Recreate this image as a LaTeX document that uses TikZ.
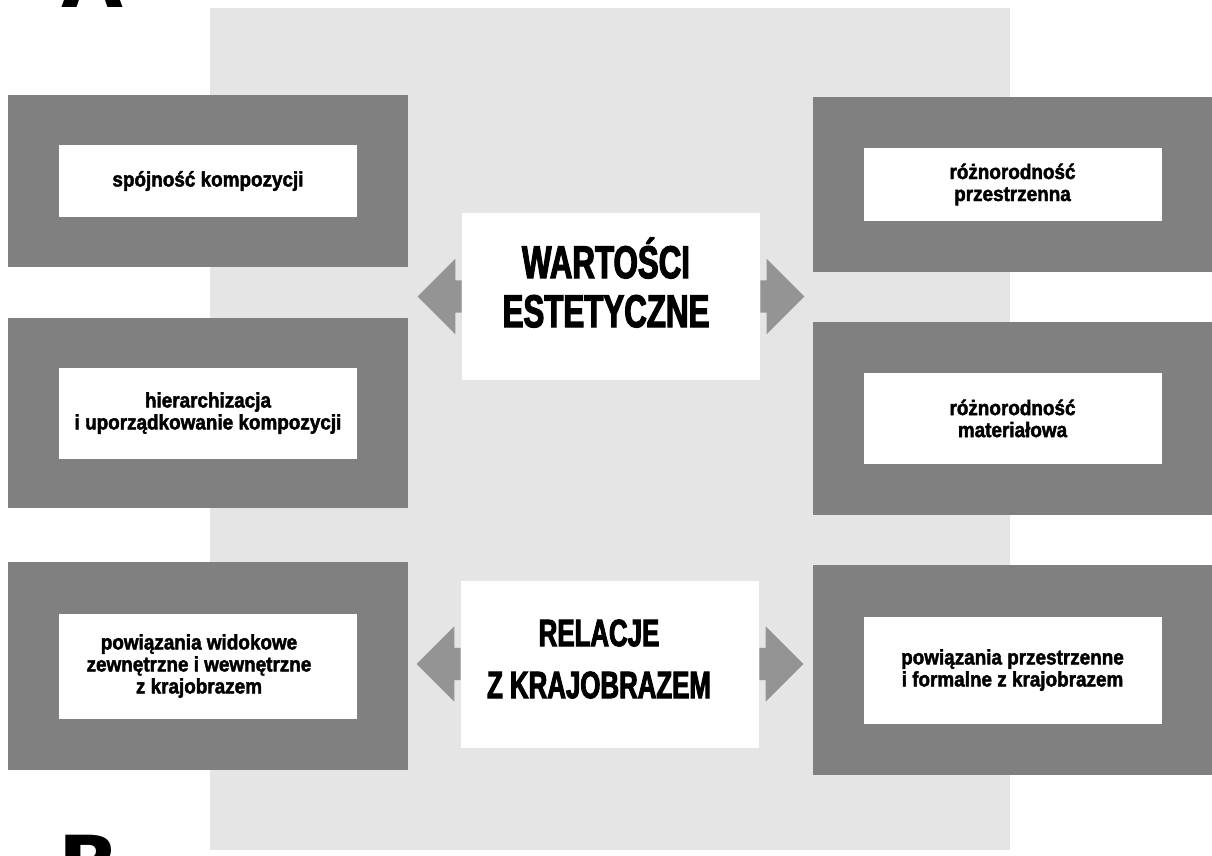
\documentclass[tikz,border=0pt]{standalone}
\usepackage{fontspec}
\newfontfamily\titlefont{Liberation Sans}[FakeStretch=0.68,FakeBold=2.5]
\newfontfamily\boxfont{Liberation Sans}[FakeStretch=0.9,FakeBold=2]
\newfontfamily\letterfont{DejaVu Sans}
\usepackage{tikz}
\usetikzlibrary{positioning,shapes.arrows}

\begin{document}
\begin{tikzpicture}[x=1pt,y=-1pt,
  outer node/.style={rectangle,fill=black!50,minimum width=400pt,inner sep=0pt},
  inner node/.style={rectangle,fill=white,minimum width=298pt,inner sep=0pt,align=center,
    font=\boxfont\bfseries\fontsize{21}{22}\selectfont},
  main node/.style={rectangle,fill=white,minimum width=298pt,minimum height=167pt,inner sep=0pt},
  title node/.style={inner sep=0pt,align=center,font=\titlefont\bfseries\fontsize{46}{49}\selectfont},
  arrow node/.style={single arrow,fill=black!42,minimum height=44pt,inner xsep=0pt,inner ysep=16pt,
    single arrow head extend=21.5pt},
  letter node/.style={inner sep=0pt,font=\letterfont\bfseries\fontsize{80}{80}\selectfont}]
  \useasboundingbox (0,0) rectangle (1212,856);
  \clip (0,0) rectangle (1212,856);
  \fill[black!10] (210,8) rectangle (1010,850);

  % centre
  \node[main node] (1) at (611,296.5) {};
  \node[title node] (1t) at ([xshift=-5pt,yshift=14pt]1.center) {WARTOŚCI\\ESTETYCZNE};
  \node[main node] (2) at (610,664) {};
  \node[title node,font=\titlefont\bfseries\fontsize{38}{52}\selectfont] (2t)
    at ([xshift=-11pt,yshift=5pt]2.center) {RELACJE\\Z KRAJOBRAZEM};

  % left column
  \node[outer node,minimum height=172pt] (3) at (208,181) {};
  \node[inner node,minimum height=72pt] (3a) at (3) {spójność kompozycji};
  \node[outer node,minimum height=190pt] (4) at (208,413) {};
  \node[inner node,minimum height=91pt] (4a) at (4) {hierarchizacja\\i uporządkowanie kompozycji};
  \node[outer node,minimum height=208pt] (5) at (208,666) {};
  \node[inner node,minimum height=105pt] (5a) at (5) {};
  \node[inner node,fill=none] (5t) at ([xshift=-9pt]5a.center) {powiązania widokowe\\zewnętrzne i wewnętrzne\\z krajobrazem};

  % right column
  \node[outer node,minimum height=175pt] (6) at (1012.5,184.5) {};
  \node[inner node,minimum height=73pt] (6a) at (6) {różnorodność\\przestrzenna};
  \node[outer node,minimum height=193pt] (7) at (1012.5,418.5) {};
  \node[inner node,minimum height=91pt] (7a) at (7) {różnorodność\\materiałowa};
  \node[outer node,minimum height=210pt] (8) at (1012.5,670) {};
  \node[inner node,minimum height=107pt] (8a) at (8) {powiązania przestrzenne\\i formalne z krajobrazem};

  % arrows
  \node[arrow node,shape border rotate=180,anchor=tail] (a1) at (1.west) {};
  \node[arrow node,anchor=tail] (a2) at (1.east) {};
  \node[arrow node,shape border rotate=180,anchor=tail] (a3) at (2.west) {};
  \node[arrow node,anchor=tail] (a4) at (2.east) {};

  % panel letters
  \node[letter node,anchor=base] (A) at (92,8) {A};
  \node[letter node,anchor=north west] (B) at (58,835) {B};
\end{tikzpicture}
\end{document}
